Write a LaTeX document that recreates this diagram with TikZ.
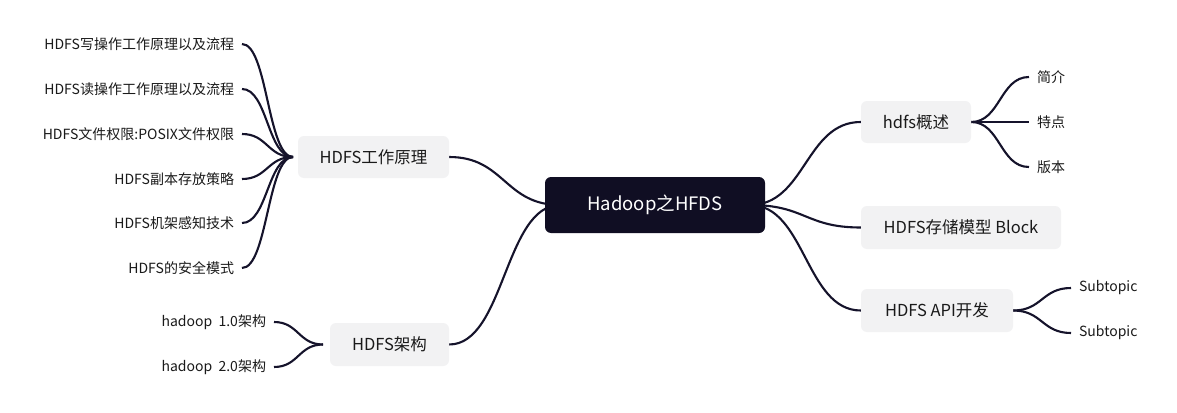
\documentclass[tikz,border=0pt]{standalone}
\usepackage{fontspec}
\setmainfont{Noto Sans CJK SC}
\usetikzlibrary{calc,backgrounds}
\definecolor{ink}{HTML}{15132B}
\definecolor{rootfill}{HTML}{100E23}
\definecolor{boxfill}{HTML}{F2F2F3}
\definecolor{txt}{HTML}{1A1A1A}
\tikzset{
  root/.style={fill=rootfill, text=white, rounded corners=6pt, minimum width=220pt, minimum height=56pt, inner sep=0pt, font=\fontsize{18.5}{20}\selectfont},
  topic/.style={fill=boxfill, text=txt, rounded corners=6pt, minimum height=42pt, inner sep=0pt, font=\fontsize{16.5}{18}\selectfont},
  leaf/.style={inner sep=0pt, text=txt, outer xsep=8pt, font=\fontsize{14}{16}\selectfont},
  branch/.style={draw=ink, line width=2.1pt,
    to path={let \p1=(\tikztostart), \p2=(\tikztotarget) in
      .. controls ({(\x1+\x2)/2},\y1) and ({(\x1+\x2)/2},\y2) .. (\tikztotarget)}},
}
\begin{document}
\begin{tikzpicture}[x=1pt,y=-1pt]
\useasboundingbox (0,0) rectangle (1177,412);
% nodes
\node[root] (root) at (655,205) {Hadoop之HFDS};
\node[topic, minimum width=151pt] (t1) at (373.5,157) {HDFS工作原理};
\node[topic, minimum width=119pt, minimum height=43pt] (t2) at (389.5,344.5) {HDFS架构};
\node[topic, minimum width=110pt] (t3) at (916,122) {hdfs概述};
\node[topic, minimum width=200pt, minimum height=43pt] (t4) at (961,227.5) {HDFS存储模型 Block};
\node[topic, minimum width=152pt, minimum height=43pt] (t5) at (937,310.5) {HDFS API开发};
% left leaves
\node[leaf, anchor=east] (a1) at (242,44) {HDFS写操作工作原理以及流程};
\node[leaf, anchor=east] (a2) at (242,89) {HDFS读操作工作原理以及流程};
\node[leaf, anchor=east] (a3) at (242,134) {HDFS文件权限:POSIX文件权限};
\node[leaf, anchor=east] (a4) at (242,179) {HDFS副本存放策略};
\node[leaf, anchor=east] (a5) at (242,223) {HDFS机架感知技术};
\node[leaf, anchor=east] (a6) at (242,268) {HDFS的安全模式};
\node[leaf, anchor=east] (b1) at (274,322) {hadoop\ \ 1.0架构};
\node[leaf, anchor=east] (b2) at (274,367) {hadoop\ \ 2.0架构};
% right leaves
\node[leaf, anchor=west] (c1) at (1029,77) {简介};
\node[leaf, anchor=west] (c2) at (1029,122) {特点};
\node[leaf, anchor=west] (c3) at (1029,167) {版本};
\node[leaf, anchor=west] (d1) at (1071,288) {Subtopic};
\node[leaf, anchor=west] (d2) at (1071,333) {Subtopic};
% junctions
\coordinate (ja) at (293,157);
\coordinate (jb) at (323,344.5);
\coordinate (rl) at (560,205);
\coordinate (rr) at (750,205);
\begin{scope}[on background layer]
  \fill[white] (0,0) rectangle (1177,412);
  \foreach \k in {a1,a2,a3,a4,a5,a6}
    \draw[branch] (\k.east) to (ja);
  \foreach \k in {b1,b2}
    \draw[branch] (\k.east) to (jb);
  \draw[branch] (t1.east) to (rl);
  \draw[branch] (t2.east) to (rl);
  \draw[branch] (rr) to (t3.west);
  \draw[branch] (rr) to (t4.west);
  \draw[branch] (rr) to (t5.west);
  \foreach \k in {c1,c2,c3}
    \draw[branch] (t3.east) to (\k.west);
  \foreach \k in {d1,d2}
    \draw[branch] (t5.east) to (\k.west);
\end{scope}
\end{tikzpicture}
\end{document}
